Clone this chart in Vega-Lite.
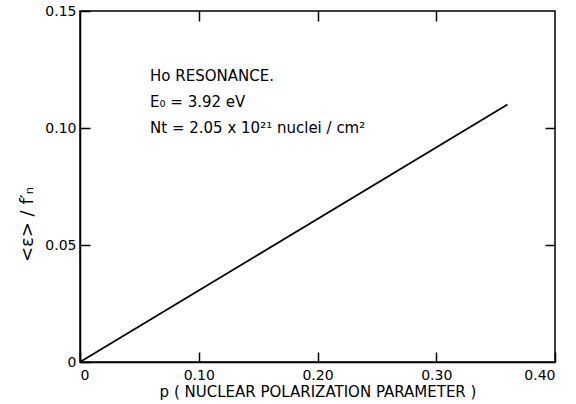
{
  "$schema": "https://vega.github.io/schema/vega-lite/v6.json",
  "autosize": "none",
  "width": 475,
  "height": 351,
  "padding": {"left": 80, "top": 11, "right": 21, "bottom": 42},
  "background": "white",
  "config": {
    "view": {"stroke": "black", "strokeWidth": 1.5},
    "font": "DejaVu Sans",
    "axis": {"domainColor": "black", "tickColor": "black", "labelColor": "black", "titleColor": "black", "grid": false, "labelFont": "DejaVu Sans", "titleFont": "DejaVu Sans", "labelFontSize": 14, "titleFontSize": 15, "titleFontWeight": "normal", "domainWidth": 1.5, "tickWidth": 1.5}
  },
  "datasets": {
    "line": [{"p": 0, "e": 0}, {"p": 0.36, "e": 0.11}],
    "notes": [
      {"p": 0.059, "e": 0.1222, "t": "Ho   RESONANCE."},
      {"p": 0.059, "e": 0.1112, "t": "E₀ = 3.92 eV"},
      {"p": 0.059, "e": 0.1002, "t": "Nt = 2.05 x 10²¹ nuclei / cm²"}
    ]
  },
  "resolve": {"axis": {"x": "independent", "y": "independent"}},
  "layer": [
    {
      "data": {"name": "line"},
      "mark": {"type": "line", "color": "black", "strokeWidth": 1.8},
      "encoding": {
        "x": {"field": "p", "type": "quantitative", "scale": {"domain": [0, 0.4], "nice": false},
          "axis": {"orient": "bottom", "values": [0, 0.1, 0.2, 0.3, 0.4], "tickSize": -10, "labelPadding": 16, "labelExpr": "datum.value == 0 ? '0' : format(datum.value, '.2f')", "title": "p  ( NUCLEAR   POLARIZATION   PARAMETER )", "titlePadding": 2}},
        "y": {"field": "e", "type": "quantitative", "scale": {"domain": [0, 0.15], "nice": false},
          "axis": {"orient": "left", "values": [0, 0.05, 0.1, 0.15], "tickSize": -10, "labelPadding": 14, "labelExpr": "datum.value == 0 ? '0' : format(datum.value, '.2f')", "title": "<ε> / f′ₙ", "titlePadding": 8, "titleFontSize": 18, "titleY": 213}}
      }
    },
    {
      "data": {"name": "notes"},
      "mark": {"type": "text", "align": "left", "baseline": "middle", "fontSize": 15, "color": "black", "font": "DejaVu Sans"},
      "encoding": {
        "x": {"field": "p", "type": "quantitative", "axis": {"orient": "top", "values": [0.1, 0.2, 0.3], "tickSize": -10, "labels": false, "domain": false, "title": null}},
        "y": {"field": "e", "type": "quantitative", "axis": {"orient": "right", "values": [0.05, 0.1], "tickSize": -10, "labels": false, "domain": false, "title": null}},
        "text": {"field": "t"}
      }
    }
  ]
}
